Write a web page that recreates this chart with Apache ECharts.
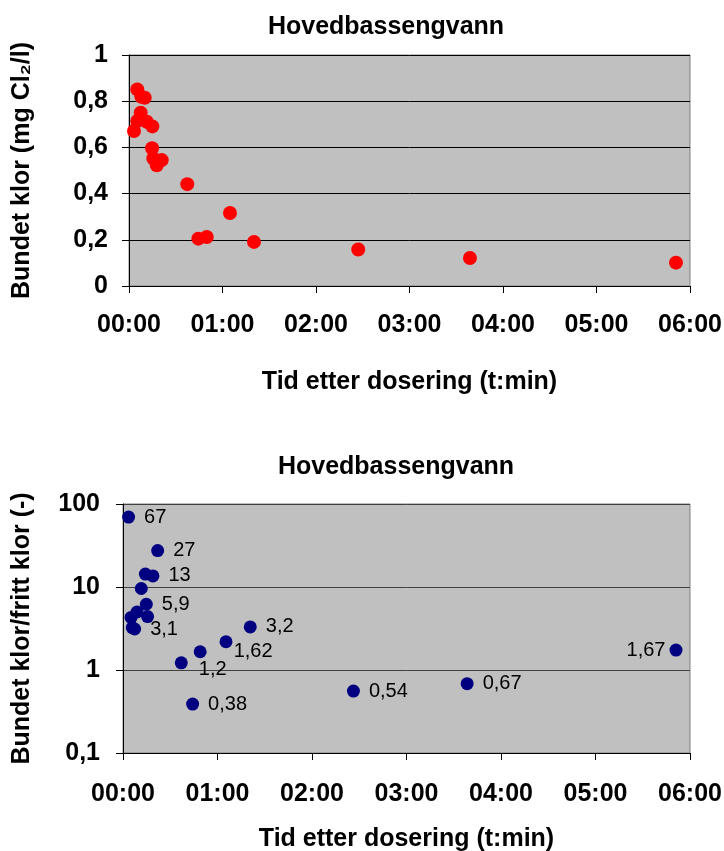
<!DOCTYPE html>
<html>
<head>
<meta charset="utf-8">
<script src="https://cdn.jsdelivr.net/npm/echarts@6/dist/echarts.min.js"></script>
<style>
html,body{margin:0;padding:0;background:#fff;}
#chart{width:724px;height:851px;}
</style>
</head>
<body>
<div id="chart"></div>
<script>
// ---- Data ----
const chartTitle = 'Hovedbassengvann';
const xAxisName = 'Tid etter dosering (t:min)';
const yNameTop = 'Bundet klor (mg Cl\u2082/l)';
const yNameBottom = 'Bundet klor/fritt klor (-)';

// top chart: time after dosing (minutes), combined chlorine (mg Cl2/l)
const bundetTime = [3.2, 5.3, 5.3, 7.5, 7.9, 10.1, 11.4, 14.8, 15.0, 15.6, 17.8, 21.0, 37.4, 44.5, 49.9, 64.8, 80.2, 147.1, 218.8, 351.0];
const bundetKlor = [0.671, 0.851, 0.714, 0.750, 0.819, 0.815, 0.711, 0.596, 0.691, 0.552, 0.523, 0.545, 0.441, 0.205, 0.212, 0.316, 0.191, 0.158, 0.121, 0.101];

// bottom chart: time (minutes), ratio combined/free chlorine, point labels
const ratioTime = [3.55, 5.1, 5.9, 7.4, 8.9, 11.6, 14.2, 14.8, 15.6, 19.0, 22.0, 37.0, 44.2, 49.0, 65.4, 80.8, 146.3, 218.5, 351.1];
const ratioValue = [69.5, 4.3, 3.24, 3.12, 5.0, 9.6, 14.3, 6.2, 4.4, 13.6, 27.5, 1.22, 0.389, 1.66, 2.19, 3.3, 0.558, 0.684, 1.74];
const ratioLabel = ['67', '', '', '3,1', '', '', '', '5,9', '', '13', '27', '1,2', '0,38', '1,62', '', '3,2', '0,54', '0,67', '1,67'];

const xTickLabels = ['00:00', '01:00', '02:00', '03:00', '04:00', '05:00', '06:00'];

// ---- Styling ----
const boldFont = 'Liberation Sans';
const FS = 25;
const labelAdjust = {
  '1,2': {offset: [2, 7]},
  '1,62': {offset: [18, 0]},
  '1,67': {position: 'left', distance: 4}
};

const ratioData = ratioTime.map((t, i) => {
  const item = {value: [t, ratioValue[i]]};
  if (ratioLabel[i]) {
    item.label = Object.assign({
      show: true,
      formatter: ratioLabel[i],
      position: 'right',
      distance: 9
    }, labelAdjust[ratioLabel[i]] || {});
  }
  return item;
});

const xFmt = v => xTickLabels[Math.round(v / 60)] || '';
const commaFmt = v => String(v).replace('.', ',');
const boldText = {fontFamily: boldFont, fontWeight: 'bold', fontSize: FS, color: '#000'};

function xAxisCfg(gridIndex, nameGap, margin) {
  return {
    type: 'value', gridIndex: gridIndex, min: 0, max: 360, interval: 60,
    name: xAxisName, nameLocation: 'middle', nameGap: nameGap,
    nameTextStyle: boldText,
    axisLine: {show: true, onZero: false, lineStyle: {color: '#000', width: 1}},
    axisTick: {show: true, inside: false, length: 7, lineStyle: {color: '#000'}},
    axisLabel: Object.assign({formatter: xFmt, margin: margin}, boldText),
    splitLine: {show: false}
  };
}

const option = {
  backgroundColor: '#fff',
  animation: false,
  title: [
    {text: chartTitle, left: 381, top: 10, textAlign: 'center', textStyle: boldText},
    {text: chartTitle, left: 391, top: 450, textAlign: 'center', textStyle: boldText}
  ],
  grid: [
    {left: 129, top: 55, width: 561, height: 231, show: true, backgroundColor: '#C0C0C0',
     borderColor: '#808080', borderWidth: 1, containLabel: false, outerBoundsMode: 'none'},
    {left: 123, top: 504, width: 567, height: 249, show: true, backgroundColor: '#C0C0C0',
     borderColor: '#808080', borderWidth: 1, containLabel: false, outerBoundsMode: 'none'}
  ],
  xAxis: [xAxisCfg(0, 84, 27), xAxisCfg(1, 74, 29)],
  yAxis: [
    {type: 'value', gridIndex: 0, min: 0, max: 1, interval: 0.2,
     name: yNameTop, nameLocation: 'middle', nameGap: 94, nameRotate: 90,
     nameTextStyle: boldText,
     axisLine: {show: true, lineStyle: {color: '#000'}},
     axisTick: {show: true, length: 7, lineStyle: {color: '#000'}},
     axisLabel: Object.assign({formatter: commaFmt, margin: 21}, boldText),
     splitLine: {show: true, lineStyle: {color: '#000', width: 1}}},
    {type: 'log', logBase: 10, gridIndex: 1, min: 0.1, max: 100,
     name: yNameBottom, nameLocation: 'middle', nameGap: 88, nameRotate: 90,
     nameTextStyle: boldText,
     axisLine: {show: true, lineStyle: {color: '#000'}},
     axisTick: {show: true, length: 7, lineStyle: {color: '#000'}},
     minorTick: {show: false},
     axisLabel: Object.assign({formatter: commaFmt, margin: 23}, boldText),
     splitLine: {show: true, lineStyle: {color: '#404040', width: 1}}}
  ],
  series: [
    {type: 'scatter', xAxisIndex: 0, yAxisIndex: 0, symbol: 'circle', symbolSize: 14,
     itemStyle: {color: '#FF0000', opacity: 1},
     data: bundetTime.map((t, i) => [t, bundetKlor[i]])},
    {type: 'scatter', xAxisIndex: 1, yAxisIndex: 1, symbol: 'circle', symbolSize: 13,
     itemStyle: {color: '#000080', opacity: 1},
     label: {fontFamily: 'Liberation Sans', fontSize: 20, color: '#000'},
     data: ratioData}
  ]
};

const chart = echarts.init(document.getElementById('chart'), null, {renderer: 'canvas'});
chart.setOption(option);
</script>
</body>
</html>
